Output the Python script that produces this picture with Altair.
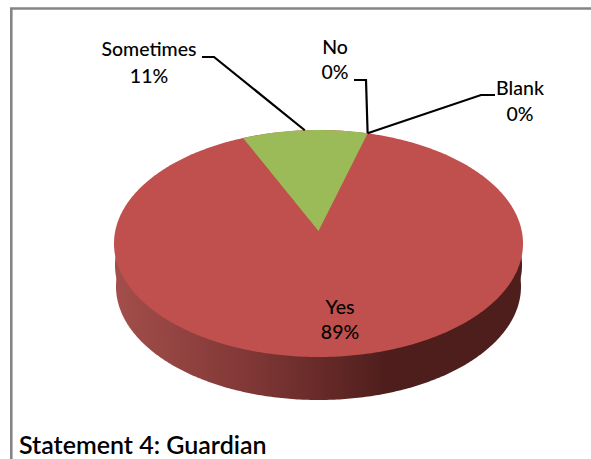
import math
import altair as alt
import pandas as pd

# Survey answers and their shares in percent
categories = ["Yes", "Sometimes", "No", "Blank"]
shares = [89, 11, 0, 0]

W, H = 591, 459
FONT = "Lato"

# Pie projection: tilted disc seen in perspective
CX, APEX_Y = 318.5, 231.0
A, B, K = 203.3, 112.1, 0.11
TOP, BOTTOM = 130.0, 357.0
RX = 204.5
DEPTH = 43.0
FIRST_ANGLE = 15.5  # clockwise degrees from the back of the pie to the slice boundary


def rim(theta_deg):
    t = math.radians(theta_deg)
    w = 1 + K * math.cos(t)
    return CX + A * math.sin(t) / w, APEX_Y - B * math.cos(t) / w


def disc(rx, top, bottom, steps=240):
    cy, ry = (top + bottom) / 2, (bottom - top) / 2
    rows = []
    for i in range(steps + 1):
        a = math.pi * i / steps
        rows.append({
            "x": CX - rx * math.cos(a),
            "y": cy - ry * math.sin(a),
            "y2": cy + ry * math.sin(a),
        })
    return pd.DataFrame(rows)


def wedge(start, sweep, steps=60):
    p0 = rim(start)
    p1 = rim(start + sweep)
    left, right = sorted([p0, p1])
    rows = []
    xs = [rim(start + sweep * i / steps)[0] for i in range(steps + 1)]
    ys = [rim(start + sweep * i / steps)[1] for i in range(steps + 1)]
    for x, y in sorted(list(zip(xs, ys)) + [(CX, None)], key=lambda p: p[0]):
        if y is None:
            y = min(zip(xs, ys), key=lambda p: abs(p[0] - x))[1]
        if x <= CX:
            f = (x - left[0]) / (CX - left[0])
            low = left[1] + f * (APEX_Y - left[1])
        else:
            f = (x - CX) / (right[0] - CX)
            low = APEX_Y + f * (right[1] - APEX_Y)
        rows.append({"x": x, "y": y, "y2": low})
    return pd.DataFrame(rows)


x_scale = alt.Scale(domain=[0, W], range=[0, W], nice=False, zero=False)
y_scale = alt.Scale(domain=[0, H], range=[0, H], nice=False, zero=False)
X = lambda f="x": alt.X(f"{f}:Q", scale=x_scale, axis=None)
Y = lambda f="y": alt.Y(f"{f}:Q", scale=y_scale, axis=None)

wall_fill = alt.Gradient(
    gradient="linear", x1=0, x2=1, y1=0, y2=0,
    stops=[
        alt.GradientStop(offset=0, color="#a34e4b"),
        alt.GradientStop(offset=0.34, color="#7f3735"),
        alt.GradientStop(offset=0.67, color="#4e1e1c"),
        alt.GradientStop(offset=1, color="#4e1e1c"),
    ],
)

# Side wall of the pie, shaded from left to right
wall = alt.Chart(disc(RX - 2, TOP + DEPTH, BOTTOM + DEPTH)).mark_area(color=wall_fill).encode(
    x=X(), y=Y(), y2=alt.Y2("y2:Q")
)

# Upper part of the wall, joining the rim of the top face to the lower ellipse
upper_wall = alt.Chart(disc(RX - 1, TOP + DEPTH / 2, BOTTOM + DEPTH / 2)).mark_area(
    color=wall_fill
).encode(x=X(), y=Y(), y2=alt.Y2("y2:Q"))

top_face = alt.Chart(disc(RX, TOP, BOTTOM)).mark_area(color="#c0504d").encode(
    x=X(), y=Y(), y2=alt.Y2("y2:Q")
)

sweep = 360 * shares[1] / sum(shares)
green = alt.Chart(wedge(FIRST_ANGLE - sweep, sweep)).mark_area(color="#9bbb59").encode(
    x=X(), y=Y(), y2=alt.Y2("y2:Q")
)

# Leader lines from the pie rim to the outer labels
slice_end = rim(FIRST_ANGLE)
slice_mid = rim(FIRST_ANGLE - sweep / 2)
leaders = pd.DataFrame(
    [
        {"id": "Sometimes", "o": 0, "x": 202, "y": 57},
        {"id": "Sometimes", "o": 1, "x": 214, "y": 57},
        {"id": "Sometimes", "o": 2, "x": slice_mid[0], "y": slice_mid[1]},
        {"id": "No", "o": 0, "x": 354, "y": 80},
        {"id": "No", "o": 1, "x": 366, "y": 80},
        {"id": "No", "o": 2, "x": slice_end[0], "y": slice_end[1]},
        {"id": "Blank", "o": 0, "x": 495, "y": 95},
        {"id": "Blank", "o": 1, "x": 481, "y": 95},
        {"id": "Blank", "o": 2, "x": slice_end[0], "y": slice_end[1]},
    ]
)
leader_lines = alt.Chart(leaders).mark_line(color="#000000", strokeWidth=2.2).encode(
    x=X(), y=Y(), detail="id:N", order="o:Q"
)

# Category name above its percentage
label_anchor = {
    "Yes": (340, 308, 333),
    "Sometimes": (149, 50, 77),
    "No": (335, 48, 73),
    "Blank": (520, 89, 115),
}
label_rows = []
for name, share in zip(categories, shares):
    lx, y1, y2 = label_anchor[name]
    label_rows.append({"x": lx, "y": y1, "t": name})
    label_rows.append({"x": lx, "y": y2, "t": f"{share}%"})
labels = alt.Chart(pd.DataFrame(label_rows)).mark_text(
    font=FONT, fontSize=19.5, fontWeight=500, color="#000000", align="center", baseline="middle"
).encode(x=X(), y=Y(), text="t:N")

# Frame along the top and left edges
frame = pd.DataFrame(
    [
        {"o": 0, "x": W, "y": 8.5},
        {"o": 1, "x": 11.3, "y": 8.5},
        {"o": 2, "x": 11.3, "y": H},
    ]
)
frame_line = alt.Chart(frame).mark_line(color="#858585", strokeWidth=2.6).encode(
    x=X(), y=Y(), order="o:Q"
)

caption = alt.Chart(pd.DataFrame([{"x": 19, "y": 446, "t": "Statement 4: Guardian"}])).mark_text(
    font=FONT, fontSize=25, fontWeight=600, color="#000000", align="left", baseline="middle"
).encode(x=X(), y=Y(), text="t:N")

chart = (
    alt.layer(frame_line, wall, upper_wall, top_face, green, leader_lines, labels, caption)
    .properties(
        width=W,
        height=H,
        padding=0,
        autosize=alt.AutoSizeParams(type="none"),
        background="#ffffff",
    )
    .configure_view(stroke=None)
)

chart.save("out.html", embed_options={"renderer": "svg", "actions": False})
